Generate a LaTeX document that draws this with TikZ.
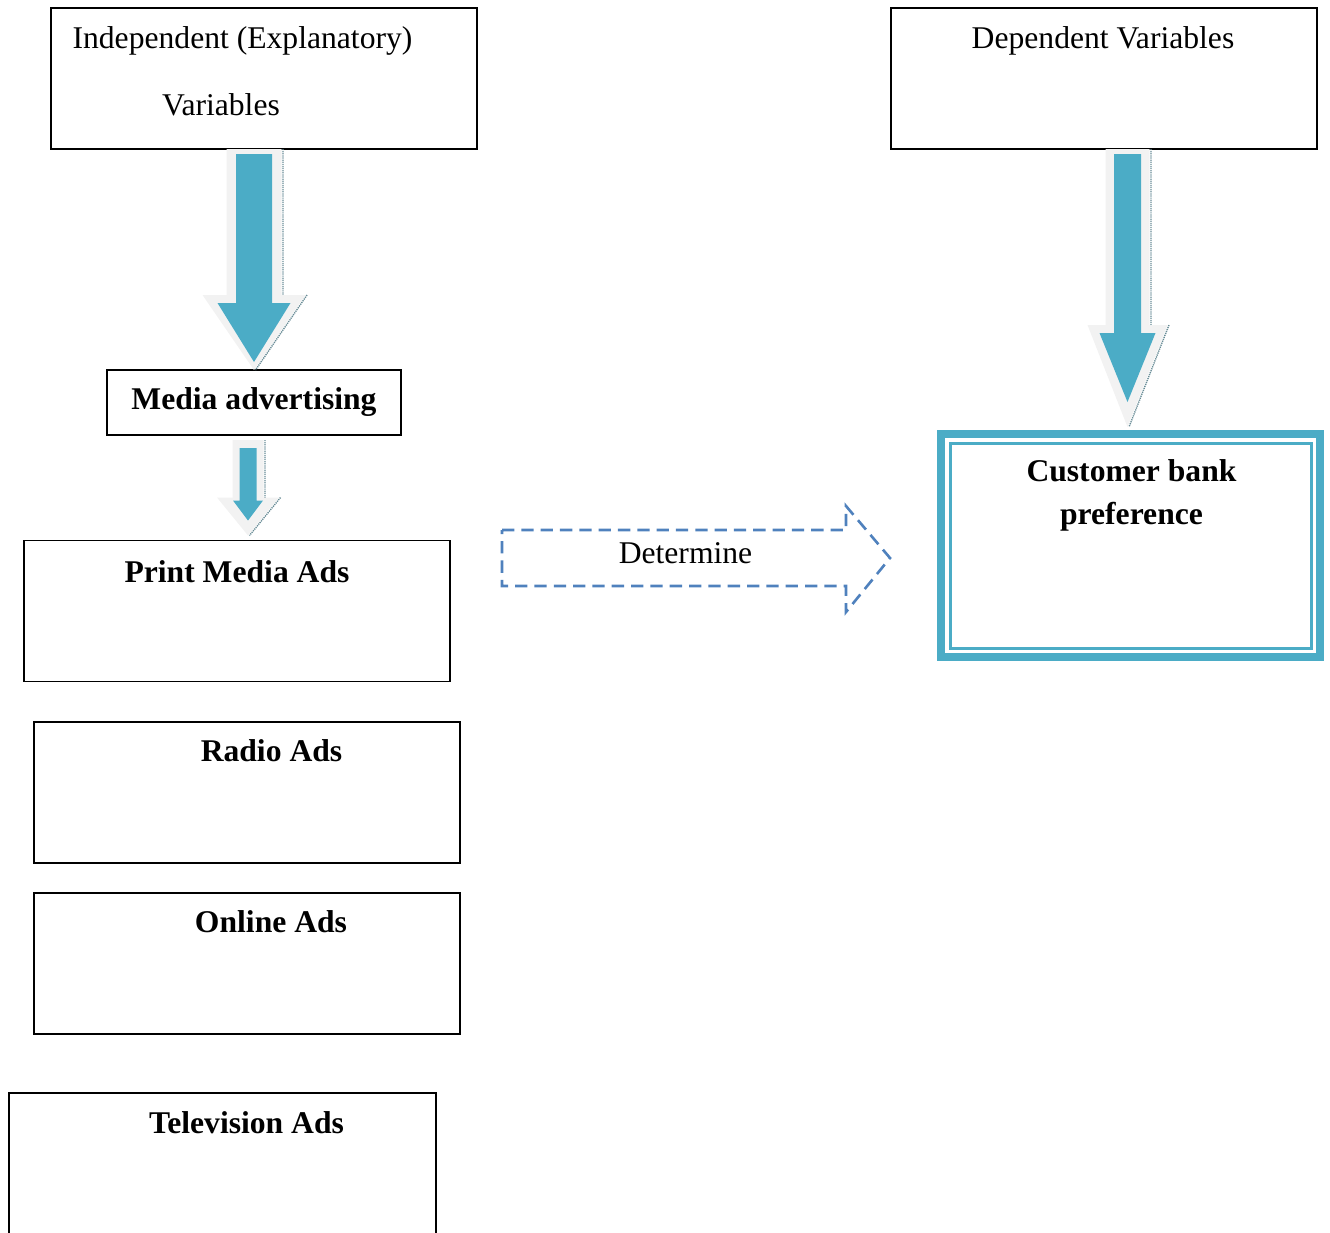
\documentclass[tikz,border=0pt]{standalone}
\usepackage{fontspec}
\setmainfont{Liberation Serif}
\usetikzlibrary{calc}
\definecolor{arrowteal}{RGB}{75,172,198}
\definecolor{arrowrim}{RGB}{242,242,242}
\definecolor{arrowshade}{RGB}{105,140,150}
\definecolor{dashblue}{RGB}{79,129,189}
\newcommand{\pu}{0.02cm}
% #1 start, #2 tip, #3 half shaft, #4 half head, #5 head length
\newcommand{\blockarrow}[5]{($(#1 -| #2)+(-#3,0)$) -- ($(#2)+(-#3,-#5)$) -- ($(#2)+(-#4,-#5)$) -- (#2)
  -- ($(#2)+(#4,-#5)$) -- ($(#2)+(#3,-#5)$) -- ($(#1 -| #2)+(#3,0)$) -- cycle}
\newcommand{\arrowedge}[5]{($(#1 -| #2)+(#3+1.5,0)$) -- ($(#2)+(#3+1.5,-#5+1)$)
  ($(#2)+(#4+1.5,-#5)$) -- ($(#2)+(1.5,0)$)}

\begin{document}
\begin{tikzpicture}[x=\pu,y=-\pu,
  box/.style={draw,line width=1.1pt,inner sep=0pt,outer sep=0pt,minimum width=426*\pu,minimum height=141*\pu},
  lbl/.style={anchor=base,inner sep=0pt,font=\fontsize{18}{21}\selectfont},
  blbl/.style={lbl,font=\fontsize{18}{21}\selectfont\bfseries},
  rim/.style={fill=arrowrim,draw=none},
  core/.style={fill=arrowteal,draw=none},
  shade/.style={draw=arrowshade,line width=0.8pt,dash pattern=on 0.7pt off 0.5pt}]
\useasboundingbox (0,0) rectangle (1330,1232);
\node[box]                                        (indep)  at (264,78.5)    {};
\node[box]                                        (dep)    at (1104,78.5)   {};
\node[box,minimum width=294*\pu,minimum height=65*\pu] (media) at (254,402.5) {};
\node[box]                                        (print)  at (237,611)     {};
\node[box]                                        (radio)  at (247,792.5)   {};
\node[box]                                        (online) at (247,963.5)   {};
\node[box,minimum width=427*\pu,minimum height=147*\pu] (tv) at (222.5,1166.5) {};
\node[draw=arrowteal,line width=8*\pu,inner sep=0pt,outer sep=0pt,
      minimum width=379*\pu,minimum height=223*\pu] (cust) at (1130.5,545.5) {};
\draw[arrowteal,line width=3*\pu] ($(cust.north west)+(9,9)$) rectangle ($(cust.south east)+(-9,-9)$);
%
\node[lbl]  (indepa) at (242.5,48)  {Independent (Explanatory)};
\node[lbl]  (indepb) at (221,115)   {Variables};
\node[lbl]  (depa)   at (1103,48)   {Dependent Variables};
\node[blbl] (mediaa) at (254,409)   {Media advertising};
\node[blbl] (printa) at (237,582)   {Print Media Ads};
\node[blbl] (radioa) at (271.5,761) {Radio Ads};
\node[blbl] (onlinea) at (271,932)  {Online Ads};
\node[blbl] (tva)    at (246.5,1133) {Television Ads};
\node[blbl] (custa)  at (1131.5,481) {Customer bank};
\node[blbl] (custb)  at (1131.5,524) {preference};
%
% block arrows
\coordinate (s1) at (indep.south -| media.north);
\coordinate (t1) at (media.north);
\coordinate (s2) at ($(dep.south)+(24,0)$);
\coordinate (t2) at ($(cust.north)+(-3,-7)$);
\coordinate (s3) at ($(media.south)+(-6,5)$);
\coordinate (t3) at ($(print.north)+(11,-5)$);
\coordinate (s1i) at ($(s1)+(0,5)$);  \coordinate (t1i) at ($(t1)+(0,-8)$);
\coordinate (s2i) at ($(s2)+(0,5)$);  \coordinate (t2i) at ($(t2)+(0,-25)$);
\coordinate (s3i) at ($(s3)+(0,8)$);  \coordinate (t3i) at ($(t3)+(0,-15)$);
\draw[shade] \arrowedge{s1}{t1}{27.5}{51.5}{75};
\fill[rim]   \blockarrow{s1}{t1}{27.5}{51.5}{75};
\fill[core]  \blockarrow{s1i}{t1i}{18}{36.5}{59};
\draw[shade] \arrowedge{s2}{t2}{22}{40}{102};
\fill[rim]   \blockarrow{s2}{t2}{22}{40}{102};
\fill[core]  \blockarrow{s2i}{t2i}{13.5}{28}{69};
\draw[shade] \arrowedge{s3}{t3}{15.5}{31}{38};
\fill[rim]   \blockarrow{s3}{t3}{15.5}{31}{38};
\fill[core]  \blockarrow{s3i}{t3i}{8.5}{15}{20};
%
% dashed arrow
\draw[dashblue,line width=1.5pt,dash pattern=on 7pt off 4pt]
  (502,530) -- (846,530) -- (846,506) -- (890,558) -- (846,612) -- (846,586) -- (502,586) -- cycle;
\node[lbl] (det) at (685.5,563) {Determine};
\end{tikzpicture}
\end{document}
